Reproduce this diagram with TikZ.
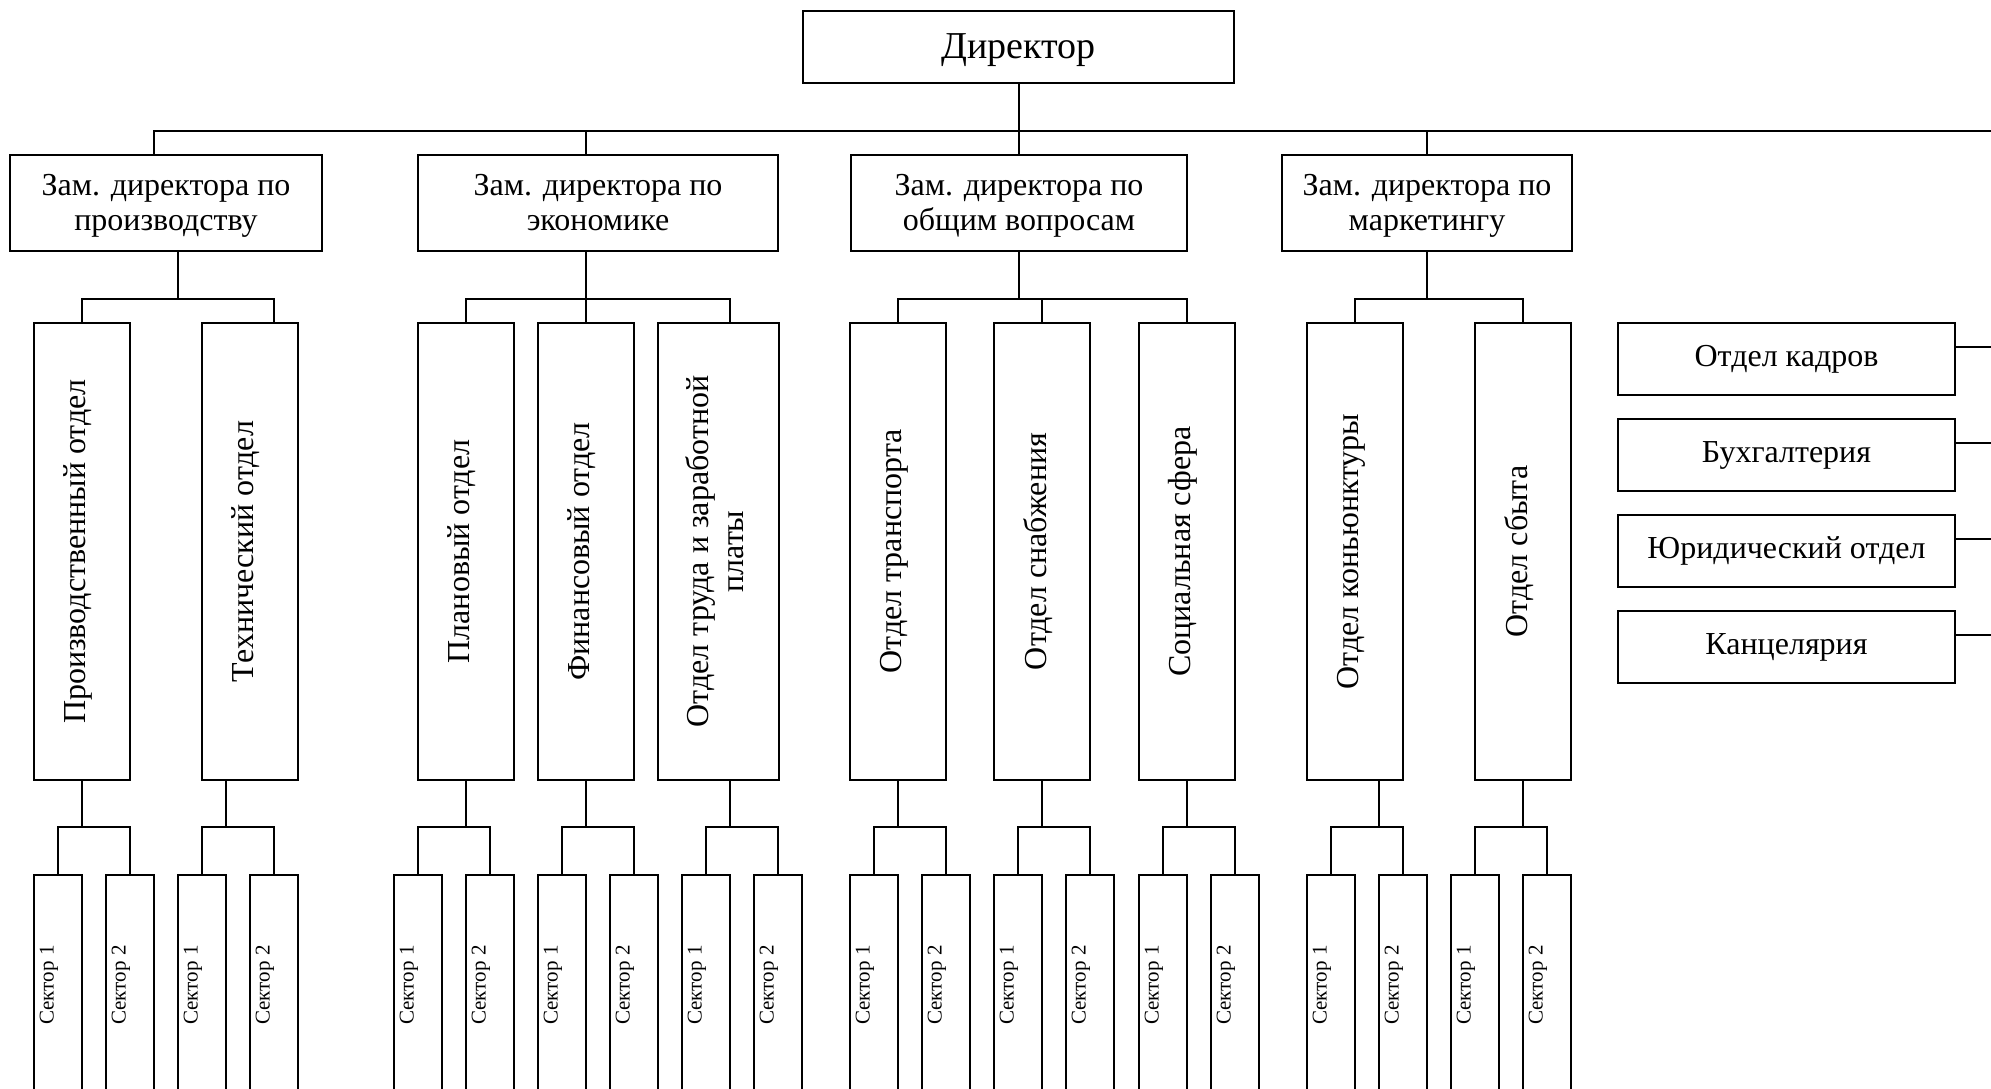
\documentclass[tikz,border=0pt]{standalone}
\usepackage{fontspec}
\setmainfont{Liberation Serif}
\usetikzlibrary{calc}

\begin{document}
\begin{tikzpicture}[x=1pt,y=-1pt,
  box/.style={draw, line width=2pt, inner sep=0pt},
  link/.style={line width=1.6pt},
  bigtxt/.style={font=\fontsize{38}{42}\selectfont, inner sep=0pt},
  txt/.style={font=\fontsize{32}{35}\selectfont, align=center, inner sep=0pt},
  vtxt/.style={font=\fontsize{32}{35}\selectfont, align=center, inner sep=0pt, rotate=90},
  stxt/.style={font=\fontsize{21}{24}\selectfont, inner sep=0pt, rotate=90},
  deputy/.style={box, minimum height=96pt},
  dept/.style={box, minimum width=96pt, minimum height=457pt},
  sector/.style={box, minimum width=48pt, minimum height=228pt},
  staff/.style={box, minimum width=337pt, minimum height=72pt}]

\useasboundingbox (0,0) rectangle (1991,1089);
\clip (0,0) rectangle (1991,1089);

% top level
\node[box, minimum width=431pt, minimum height=72pt] (dir) at (1018.5,47) {};
\node[bigtxt] (dirt) at ([yshift=-3pt]dir.center) {Директор};

% deputies
\node[deputy, minimum width=312pt] (d1) at (166,203) {};
\node[deputy, minimum width=360pt] (d2) at (598,203) {};
\node[deputy, minimum width=336pt] (d3) at (1019,203) {};
\node[deputy, minimum width=290pt] (d4) at (1427,203) {};
\node[txt] (d1t) at ([yshift=-3pt]d1.center) {Зам. директора по\strut\\производству\strut};
\node[txt] (d2t) at ([yshift=-3pt]d2.center) {Зам. директора по\strut\\экономике\strut};
\node[txt] (d3t) at ([yshift=-3pt]d3.center) {Зам. директора по\strut\\общим вопросам\strut};
\node[txt] (d4t) at ([yshift=-3pt]d4.center) {Зам. директора по\strut\\маркетингу\strut};

% departments
\node[dept] (prod) at (82,551.5) {};
\node[dept] (tech) at (250,551.5) {};
\node[dept] (plan) at (466,551.5) {};
\node[dept] (fin) at (586,551.5) {};
\node[dept, minimum width=121pt] (labor) at (718.5,551.5) {};
\node[dept] (trans) at (898,551.5) {};
\node[dept] (supply) at (1042,551.5) {};
\node[dept] (social) at (1187,551.5) {};
\node[dept] (konj) at (1355,551.5) {};
\node[dept] (sbyt) at (1523,551.5) {};

\node[vtxt] (prodt) at ([xshift=-4pt]prod.center) {Производственный отдел};
\node[vtxt] (techt) at ([xshift=-4pt]tech.center) {Технический отдел};
\node[vtxt] (plant) at ([xshift=-4pt]plan.center) {Плановый отдел};
\node[vtxt] (fint) at ([xshift=-4pt]fin.center) {Финансовый отдел};
\node[vtxt] (labort) at ([xshift=-4pt]labor.center) {Отдел труда и заработной\\платы};
\node[vtxt] (transt) at ([xshift=-4pt]trans.center) {Отдел транспорта};
\node[vtxt] (supplyt) at ([xshift=-4pt]supply.center) {Отдел снабжения};
\node[vtxt] (socialt) at ([xshift=-4pt]social.center) {Социальная сфера};
\node[vtxt] (konjt) at ([xshift=-4pt]konj.center) {Отдел коньюнктуры};
\node[vtxt] (sbytt) at ([xshift=-4pt]sbyt.center) {Отдел сбыта};

% staff services on the right
\node[staff] (k1) at (1786.5,359) {};
\node[staff] (k2) at (1786.5,455) {};
\node[staff] (k3) at (1786.5,551) {};
\node[staff] (k4) at (1786.5,647) {};
\node[txt] (k1t) at (k1.center) {Отдел кадров};
\node[txt] (k2t) at (k2.center) {Бухгалтерия};
\node[txt] (k3t) at (k3.center) {Юридический отдел};
\node[txt] (k4t) at (k4.center) {Канцелярия};

% junction points
\coordinate (busend) at (1995,131);
\coordinate (j1) at (178,299);
\coordinate (j2) at (586,299);
\coordinate (j3) at (1019,299);
\coordinate (j4) at (1427,299);
\coordinate (r1) at (1995,347);
\coordinate (r2) at (1995,443);
\coordinate (r3) at (1995,539);
\coordinate (r4) at (1995,635);

% director to deputies
\draw[line width=2pt] ([xshift=-12pt]d1.north) |- (busend);
\draw[link] (d3.north) -- (d3.north |- dir.south);
\draw[link] ([xshift=-12pt]d2.north) |- (busend);
\draw[link] (d4.north) |- (busend);

% staff services to the right-hand line
\draw[link] (k1.east |- r1) -- (r1);
\draw[link] (k2.east |- r2) -- (r2);
\draw[link] (k3.east |- r3) -- (r3);
\draw[link] (k4.east |- r4) -- (r4);

% deputies to departments
\draw[link] (d1.south -| j1) -- (j1);
\draw[link] (prod.north) |- (j1) -| ([xshift=24pt]tech.north);
\draw[link] (d2.south -| j2) -- (j2);
\draw[link] (plan.north) |- (j2) -| ([xshift=11.5pt]labor.north);
\draw[link] (fin.north) -- (j2);
\draw[link] (d3.south) -- (j3);
\draw[link] (trans.north) |- (j3) -| (social.north);
\draw[link] (supply.north) -- (supply.north |- j3);
\draw[link] (d4.south) -- (j4);
\draw[link] (konj.north) |- (j4) -| (sbyt.north);

% departments to sectors: name / centre of first sector / drop line
\foreach \n/\a/\v in {prod/58/82, tech/202/226, plan/418/466, fin/562/586,
    labor/706/730, trans/874/898, supply/1018/1042, social/1163/1187,
    konj/1331/1379, sbyt/1475/1523} {
  \node[sector] (\n-s1) at (\a,989) {};
  \node[sector] (\n-s2) at (\a+72,989) {};
  \node[stxt] (\n-s1t) at ([xshift=-9pt,yshift=4pt]\n-s1.center) {Сектор 1};
  \node[stxt] (\n-s2t) at ([xshift=-9pt,yshift=4pt]\n-s2.center) {Сектор 2};
  \coordinate (\n-j) at (\v,827);
  \draw[link] (\n.south -| \n-j) -- (\n-j);
  \draw[link] (\n-s1.north) |- (\n-j) -| (\n-s2.north);
}
\end{tikzpicture}
\end{document}
